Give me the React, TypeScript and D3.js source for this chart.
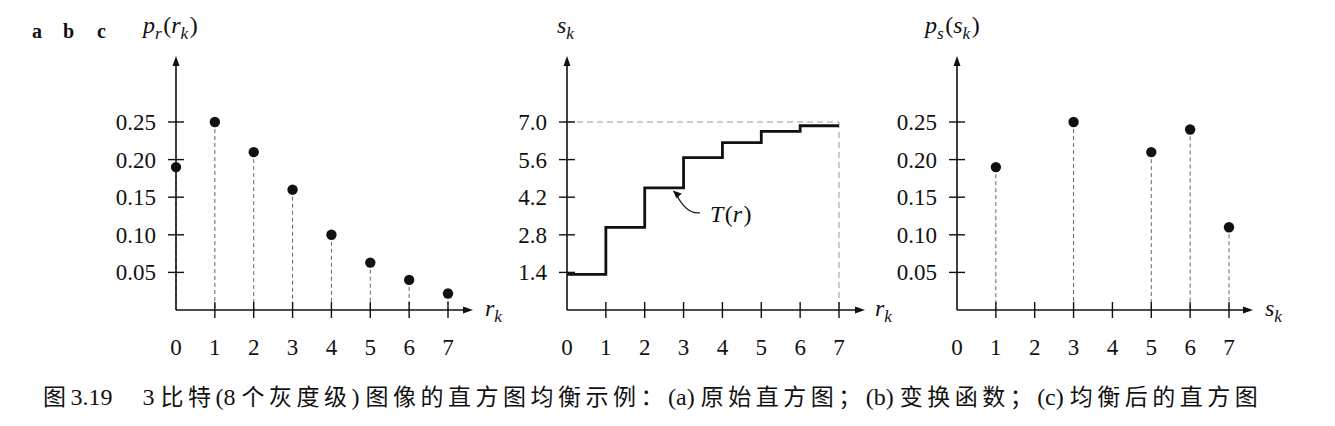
import React from "react"
import * as d3 from "d3"

// gray levels r_k / s_k
const levels = [0, 1, 2, 3, 4, 5, 6, 7]
// (a) original histogram p_r(r_k)
const prValues = [0.19, 0.25, 0.21, 0.16, 0.1, 0.063, 0.04, 0.022]
// (b) transformation s_k = T(r_k)
const skValues = [1.33, 3.08, 4.55, 5.67, 6.23, 6.65, 6.86, 7.0]
// (c) equalized histogram p_s(s_k)
const psLevels = [1, 3, 5, 6, 7]
const psValues = [0.19, 0.25, 0.21, 0.24, 0.11]

const probTicks = [0.05, 0.1, 0.15, 0.2, 0.25]
const probTickLabels = ["0.05", "0.10", "0.15", "0.20", "0.25"]
const skTicks = [1.4, 2.8, 4.2, 5.6, 7.0]
const skTickLabels = ["1.4", "2.8", "4.2", "5.6", "7.0"]

// caption pieces: [text, isCJK]
const captionParts: [string, boolean][] = [
  ["图", true],
  ["3.19\u2003 3 ", false],
  ["比特", true],
  ["(8 ", false],
  ["个灰度级", true],
  [") ", false],
  ["图像的直方图均衡示例：", true],
  ["(a) ", false],
  ["原始直方图；", true],
  ["(b) ", false],
  ["变换函数；", true],
  ["(c) ", false],
  ["均衡后的直方图", true],
]

const SERIF = "'Liberation Serif', 'DejaVu Serif', serif"
const CJK = "'Noto Sans CJK SC', sans-serif"
const FS = 23
const TOP = 56

type Part = [string, "i" | "u" | "s"]

const MathText = ({ x, y, parts, size = 24 }: { x: number; y: number; parts: Part[]; size?: number }) => {
  let shift = 0
  return (
    <text x={x} y={y} fontFamily={SERIF} fontSize={size} fill="#111">
      {parts.map(([t, kind], i) => {
        const target = kind === "s" ? 6 : 0
        const dy = target - shift
        shift = target
        return (
          <tspan
            key={i}
            dy={dy}
            dx={kind === "u" ? 1.5 : 0}
            fontSize={kind === "s" ? size * 0.72 : size}
            fontStyle={kind === "u" ? "normal" : "italic"}
          >
            {t}
          </tspan>
        )
      })}
    </text>
  )
}

interface AxesProps {
  x: d3.ScaleLinear<number, number>
  y: d3.ScaleLinear<number, number>
  xEnd: number
  yTicks: number[]
  yLabels: string[]
  yLabel: Part[]
  yLabelX: number
  xLabel: Part[]
  xLabelX: number
}

const Axes = ({ x, y, xEnd, yTicks, yLabels, yLabel, yLabelX, xLabel, xLabelX }: AxesProps) => {
  const x0 = x(0)
  const y0 = y(0)
  return (
    <g>
      <line x1={x0} y1={y0} x2={x0} y2={TOP + 6} stroke="#111" strokeWidth={1.6} />
      <path d={`M${x0},${TOP} L${x0 - 3.5},${TOP + 10} L${x0 + 3.5},${TOP + 10} Z`} fill="#111" />
      <line x1={x0} y1={y0} x2={xEnd - 6} y2={y0} stroke="#111" strokeWidth={1.6} />
      <path d={`M${xEnd},${y0} L${xEnd - 10},${y0 - 3.5} L${xEnd - 10},${y0 + 3.5} Z`} fill="#111" />
      {yTicks.map((t, i) => (
        <g key={t}>
          <line x1={x0 - 8} x2={x0 + 8} y1={y(t)} y2={y(t)} stroke="#111" strokeWidth={1.4} />
          <text
            x={x0 - 20}
            y={y(t)}
            dy="0.35em"
            textAnchor="end"
            fontFamily={SERIF}
            fontSize={FS}
            fill="#111"
          >
            {yLabels[i]}
          </text>
        </g>
      ))}
      {levels.map((l) => (
        <g key={l}>
          {l > 0 && (
            <line x1={x(l)} x2={x(l)} y1={y0 - 8} y2={y0 + 8} stroke="#111" strokeWidth={1.4} />
          )}
          <text x={x(l)} y={y0 + 45} textAnchor="middle" fontFamily={SERIF} fontSize={FS} fill="#111">
            {l}
          </text>
        </g>
      ))}
      <MathText x={yLabelX} y={33} parts={yLabel} />
      <MathText x={xLabelX} y={316} parts={xLabel} />
    </g>
  )
}

const Stems = ({
  x,
  y,
  xs,
  vs,
}: {
  x: d3.ScaleLinear<number, number>
  y: d3.ScaleLinear<number, number>
  xs: number[]
  vs: number[]
}) => (
  <g>
    {xs.map((l, i) => (
      <g key={l}>
        <line
          x1={x(l)}
          x2={x(l)}
          y1={y(vs[i])}
          y2={y(0)}
          stroke="#666"
          strokeWidth={1}
          strokeDasharray="4,3"
        />
        <circle cx={x(l)} cy={y(vs[i])} r={5.2} fill="#111" />
      </g>
    ))}
  </g>
)

export default function App() {
  const xA = d3.scaleLinear().domain([0, 7]).range([176, 448])
  const yA = d3.scaleLinear().domain([0, 0.25]).range([310, 122])

  const xB = d3.scaleLinear().domain([0, 7]).range([567, 839])
  const yB = d3.scaleLinear().domain([0, 7]).range([310, 122])

  const xC = d3.scaleLinear().domain([0, 7]).range([957, 1229])
  const yC = d3.scaleLinear().domain([0, 0.25]).range([310, 122])

  const stepData: [number, number][] = levels.map((l, i) =>
    i < levels.length - 1 ? [l, skValues[i]] : [l, skValues[i - 1]]
  )
  const step = d3
    .line<[number, number]>()
    .x((d) => xB(d[0]))
    .y((d) => yB(d[1]))
    .curve(d3.curveStepAfter)

  // T(r) callout
  const tip: [number, number] = [xB(2.72), yB(4.45)]
  const tail: [number, number] = [xB(3.42), yB(3.62)]
  const callout = `M${tip[0] + 3},${tip[1] + 3} Q${tip[0] + 14},${tail[1] + 2} ${tail[0]},${tail[1]}`

  return (
    <svg
      width={1335}
      height={426}
      style={{ position: "absolute", left: 0, top: 0, background: "#fff" }}
    >
      <rect width={1335} height={426} fill="#fff" />

      {["a", "b", "c"].map((t, i) => (
        <text
          key={t}
          x={[32, 63, 97][i]}
          y={38}
          fontFamily={SERIF}
          fontWeight="bold"
          fontSize={20}
          fill="#111"
        >
          {t}
        </text>
      ))}

      {/* (a) */}
      <Stems x={xA} y={yA} xs={levels} vs={prValues} />
      <Axes
        x={xA}
        y={yA}
        xEnd={473}
        yTicks={probTicks}
        yLabels={probTickLabels}
        yLabel={[["p", "i"], ["r", "s"], ["(", "u"], ["r", "i"], ["k", "s"], [")", "u"]]}
        yLabelX={143}
        xLabel={[["r", "i"], ["k", "s"]]}
        xLabelX={485}
      />

      {/* (b) */}
      <line
        x1={xB(0)}
        x2={xB(7)}
        y1={yB(7)}
        y2={yB(7)}
        stroke="#999"
        strokeWidth={1}
        strokeDasharray="6,4"
      />
      <line
        x1={xB(7)}
        x2={xB(7)}
        y1={yB(7)}
        y2={yB(0)}
        stroke="#999"
        strokeWidth={1}
        strokeDasharray="6,4"
      />
      <path d={step(stepData) ?? ""} fill="none" stroke="#111" strokeWidth={2.8} />
      <path d={callout} fill="none" stroke="#111" strokeWidth={1.3} />
      <path
        d={`M${tip[0]},${tip[1]} L${tip[0] + 9},${tip[1] + 3} L${tip[0] + 4},${tip[1] + 8} Z`}
        fill="#111"
      />
      <MathText x={tail[0] + 10} y={tail[1] + 9} parts={[["T", "i"], ["(", "u"], ["r", "i"], [")", "u"]]} />
      <Axes
        x={xB}
        y={yB}
        xEnd={865}
        yTicks={skTicks}
        yLabels={skTickLabels}
        yLabel={[["s", "i"], ["k", "s"]]}
        yLabelX={557}
        xLabel={[["r", "i"], ["k", "s"]]}
        xLabelX={875}
      />

      {/* (c) */}
      <Stems x={xC} y={yC} xs={psLevels} vs={psValues} />
      <Axes
        x={xC}
        y={yC}
        xEnd={1253}
        yTicks={probTicks}
        yLabels={probTickLabels}
        yLabel={[["p", "i"], ["s", "s"], ["(", "u"], ["s", "i"], ["k", "s"], [")", "u"]]}
        yLabelX={925}
        xLabel={[["s", "i"], ["k", "s"]]}
        xLabelX={1265}
      />

      <text x={43} y={405} fill="#111">
        {captionParts.map(([t, cjk], i) => (
          <tspan
            key={i}
            fontFamily={cjk ? CJK : SERIF}
            fontSize={cjk ? 23 : 24}
            letterSpacing={cjk ? 4.5 : 0}
          >
            {t}
          </tspan>
        ))}
      </text>
    </svg>
  )
}
